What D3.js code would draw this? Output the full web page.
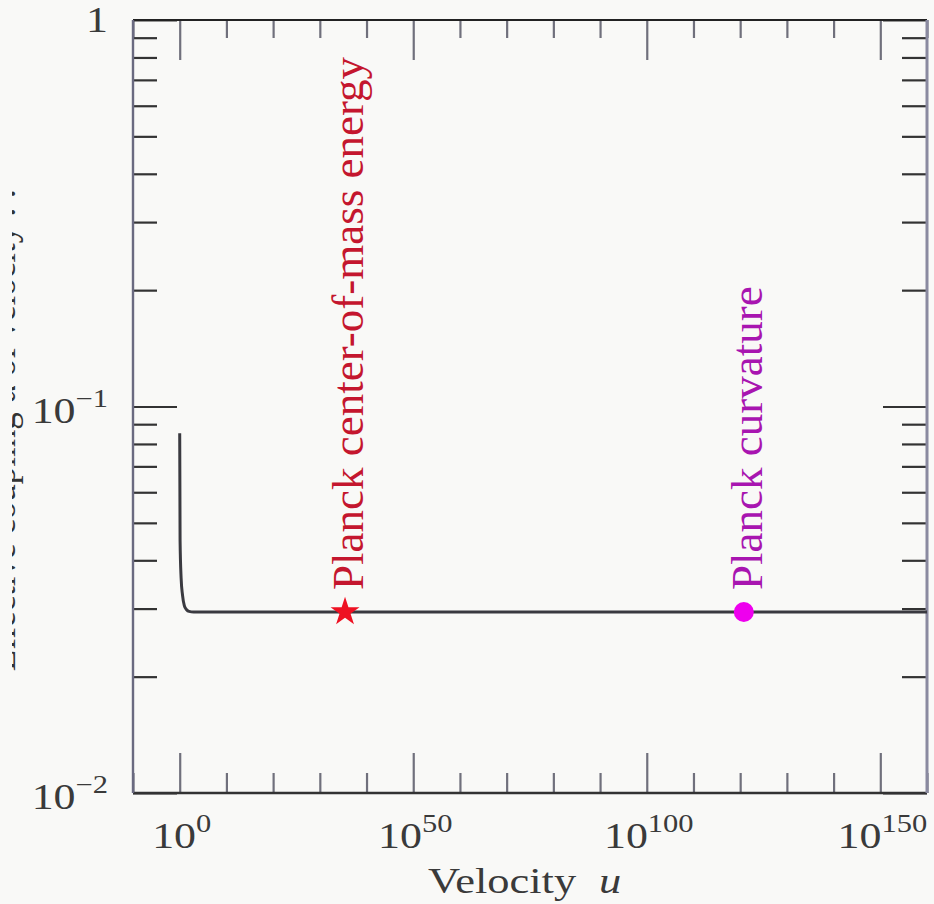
<!DOCTYPE html>
<html>
<head>
<meta charset="utf-8">
<script src="https://cdn.jsdelivr.net/npm/d3@7"></script>
<style>
  html, body { margin: 0; padding: 0; background: #f9f9f7; }
  svg { display: block; }
</style>
</head>
<body>
<script>
// ---- data ----
const curveU     = [1, 1.2, 2, 4, 10, 30, 100, 1000, 1e160];
const curveAlpha = [0.0853, 0.045, 0.036, 0.0325, 0.0305, 0.0298, 0.0295, 0.0294, 0.0294];

const markerNames  = ["Planck center-of-mass energy", "Planck curvature"];
const markerU      = [2.5e35, 6e120];
const markerAlpha  = [0.0294, 0.0294];
const markerShapes = ["star", "circle"];

const xMajorExps = [0, 50, 100, 150];
const xMinorExps = [-10, 10, 20, 30, 40, 60, 70, 80, 90, 110, 120, 130, 140, 160];
const yMajor = [0.01, 0.1, 1];
const yMinor = [0.02, 0.03, 0.04, 0.05, 0.06, 0.07, 0.08, 0.09, 0.2, 0.3, 0.4, 0.5, 0.6, 0.7, 0.8, 0.9];
const yLabelBase = ["1", "10", "10"];
const yLabelExp  = ["", "−1", "−2"];
const yLabelVals = [1, 0.1, 0.01];
const xTitle = "Velocity";
const xTitleVar = "u";
const yTitle = "Effective coupling  α  of velocity : :";

// ---- layout ----
const W = 934, H = 904;
const L = 133, R = 927, T = 20, B = 793;
const SX = 1.22;
const serif = "'Liberation Serif', 'Times New Roman', Times, serif";

const svg = d3.select("body").append("svg").attr("width", W).attr("height", H);
svg.append("rect").attr("width", W).attr("height", H).attr("fill", "#f9f9f7");

const x = d3.scaleLog().domain([1e-10, 1e160]).range([L, R]);
const y = d3.scaleLog().domain([0.01, 1]).range([B, T]);

const xMaj = xMajorExps.map(e => Math.pow(10, e));
const xMin = xMinorExps.map(e => Math.pow(10, e));

function styleAxis(g, color, w) {
  g.select(".domain").remove();
  g.selectAll(".tick line").attr("stroke", color).attr("stroke-width", w);
  g.selectAll(".tick text").remove();
}

// x ticks (bottom & top, inward)
svg.append("g").attr("transform", `translate(0,${B})`)
  .call(d3.axisBottom(x).tickValues(xMaj).tickSize(-40).tickFormat(""))
  .call(g => styleAxis(g, "#70707c", 2.2));
svg.append("g").attr("transform", `translate(0,${B})`)
  .call(d3.axisBottom(x).tickValues(xMin).tickSize(-20).tickFormat(""))
  .call(g => styleAxis(g, "#70707c", 2.2));
svg.append("g").attr("transform", `translate(0,${T})`)
  .call(d3.axisTop(x).tickValues(xMaj).tickSize(-40).tickFormat(""))
  .call(g => styleAxis(g, "#70707c", 2.2));
svg.append("g").attr("transform", `translate(0,${T})`)
  .call(d3.axisTop(x).tickValues(xMin).tickSize(-18).tickFormat(""))
  .call(g => styleAxis(g, "#70707c", 2.2));

// y ticks (left & right, inward)
svg.append("g").attr("transform", `translate(${L},0)`)
  .call(d3.axisLeft(y).tickValues(yMajor).tickSize(-44).tickFormat(""))
  .call(g => styleAxis(g, "#333", 2.2));
svg.append("g").attr("transform", `translate(${L},0)`)
  .call(d3.axisLeft(y).tickValues(yMinor).tickSize(-24).tickFormat(""))
  .call(g => styleAxis(g, "#333", 2.2));
svg.append("g").attr("transform", `translate(${R},0)`)
  .call(d3.axisRight(y).tickValues(yMajor).tickSize(-44).tickFormat(""))
  .call(g => styleAxis(g, "#333", 2.2));
svg.append("g").attr("transform", `translate(${R},0)`)
  .call(d3.axisRight(y).tickValues(yMinor).tickSize(-25).tickFormat(""))
  .call(g => styleAxis(g, "#333", 2.2));

// frame
svg.append("line").attr("x1", L).attr("x2", R).attr("y1", T).attr("y2", T)
  .attr("stroke", "#222").attr("stroke-width", 2);
svg.append("line").attr("x1", L).attr("x2", R).attr("y1", B).attr("y2", B)
  .attr("stroke", "#333").attr("stroke-width", 2.4);
svg.append("line").attr("x1", L).attr("x2", L).attr("y1", T).attr("y2", B)
  .attr("stroke", "#6a6a80").attr("stroke-width", 2.4);
svg.append("line").attr("x1", R).attr("x2", R).attr("y1", T).attr("y2", B)
  .attr("stroke", "#8a8aa0").attr("stroke-width", 3);

// x tick labels
xMajorExps.forEach((e, i) => {
  const t = svg.append("text")
    .attr("transform", `translate(${x(xMaj[i]) + 2},848) scale(${SX},1)`)
    .attr("text-anchor", "middle")
    .attr("font-family", serif).attr("font-size", 36).attr("fill", "#3a3a3a");
  t.append("tspan").text("10");
  t.append("tspan").attr("font-size", 25).attr("dy", -16).text(String(e));
});

// y tick labels
yLabelVals.forEach((v, i) => {
  const t = svg.append("text")
    .attr("transform", `translate(108,${y(v) + (v === 1 ? 12 : 16)}) scale(${SX},1)`)
    .attr("text-anchor", "end")
    .attr("font-family", serif).attr("font-size", 36).attr("fill", "#3a3a3a");
  t.append("tspan").text(yLabelBase[i]);
  if (yLabelExp[i]) t.append("tspan").attr("font-size", 25).attr("dy", -16).text(yLabelExp[i]);
});

// x title
const xt = svg.append("text")
  .attr("transform", `translate(428,893) scale(1.27,1)`)
  .attr("text-anchor", "start")
  .attr("font-family", serif).attr("font-size", 35).attr("fill", "#3a3a3a");
xt.append("tspan").text(xTitle);
xt.append("tspan").attr("font-style", "italic").attr("dx", 18).text(xTitleVar);

// y title (cropped at the left edge, as in the source frame)
svg.append("clipPath").attr("id", "yclip")
  .append("rect").attr("x", 12).attr("y", 0).attr("width", 30).attr("height", H);
svg.append("g").attr("clip-path", "url(#yclip)")
  .append("text")
  .attr("transform", `translate(15,430) rotate(-90)`)
  .attr("text-anchor", "middle")
  .attr("font-family", serif).attr("font-size", 35).attr("fill", "#333")
  .text(yTitle);

// curve
const line = d3.line().x((d, i) => x(curveU[i])).y((d, i) => y(curveAlpha[i]))
  .curve(d3.curveMonotoneX);
svg.append("path").datum(curveU).attr("d", line)
  .attr("fill", "none").attr("stroke", "#3a3a40").attr("stroke-width", 3);

// markers + annotations
const markerColors = ["#ee1122", "#ee00ee"];
const textColors = ["#c4162e", "#a815b0"];
markerU.forEach((u, i) => {
  const cx = x(u), cy = y(markerAlpha[i]);
  if (markerShapes[i] === "star") {
    svg.append("path")
      .attr("transform", `translate(${cx},${cy})`)
      .attr("d", d3.symbol().type(d3.symbolStar).size(260)())
      .attr("fill", markerColors[i]);
  } else {
    svg.append("circle").attr("cx", cx).attr("cy", cy).attr("r", 10)
      .attr("fill", markerColors[i]);
  }
  svg.append("text")
    .attr("transform", `translate(${cx + 18},${cy - 22}) rotate(-90)`)
    .attr("text-anchor", "start")
    .attr("font-family", serif).attr("font-size", 45).attr("fill", textColors[i])
    .text(markerNames[i]);
});
</script>
</body>
</html>
